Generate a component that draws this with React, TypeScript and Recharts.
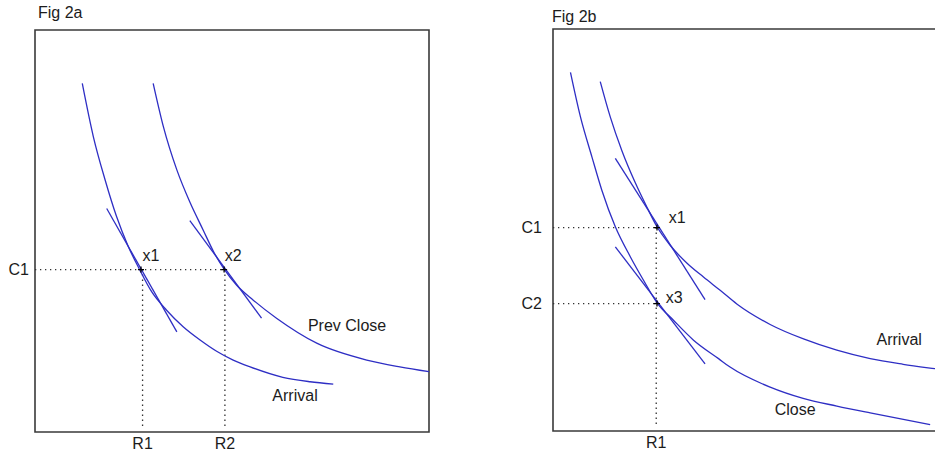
import React from 'react';
import {
  ComposedChart, Line, Scatter, XAxis, YAxis, ReferenceArea, ReferenceLine,
} from 'recharts';

const FONT = '"Liberation Sans", Arial, Helvetica, sans-serif';
const CURVE = '#2e2ec4';
const TEXT = '#1c1c1c';

// ---------- Fig 2a data (abstract units, 0..100) ----------
const arrivalA = [
  [12.0, 86.7], [14.8, 73.5], [17.8, 62.7], [20.7, 53.6], [23.7, 46.1],
  [26.6, 40.3], [29.6, 34.9], [33.4, 30.3], [37.6, 26.2], [41.9, 22.9],
  [46.1, 20.1], [50.3, 17.9], [54.6, 16.2], [62.9, 13.6], [69.8, 12.5],
  [75.7, 11.9],
];
const prevCloseA = [
  [30.0, 86.7], [32.6, 75.9], [36.0, 65.2], [39.3, 57.2], [42.7, 50.2],
  [45.3, 44.9], [48.0, 40.5], [51.2, 36.5], [55.4, 32.8], [61.3, 28.3],
  [71.5, 22.1], [84.2, 17.9], [92.6, 16.2], [100, 15.0],
];
const tangentA1 = [[18.2, 55.6], [36.0, 24.9]];
const tangentA2 = [[39.3, 52.6], [57.5, 28.3]];
const C1_A = 40.4;
const R1_A = 27.3;
const R2_A = 48.2;
const markersA = [[26.9, C1_A], [48.0, C1_A]];
const yTicksA = [C1_A];
const yTickLabelsA = ['C1'];
const xTicksA = [R1_A, R2_A];
const xTickLabelsA = ['R1', 'R2'];
const labelsA = [
  { x: 29.4, y: 44.0, text: 'x1' },
  { x: 50.3, y: 44.0, text: 'x2' },
  { x: 79.2, y: 26.6, text: 'Prev Close' },
  { x: 66.0, y: 9.2, text: 'Arrival' },
];

// ---------- Fig 2b data (abstract units, 0..100) ----------
const closeB = [
  [4.4, 89.2], [6.9, 78.2], [9.8, 68.2], [12.3, 59.9], [15.7, 50.8],
  [19.5, 43.3], [22.8, 37.5], [26.2, 31.9], [30.4, 27.5], [35.4, 22.6],
  [41.7, 18.0], [44.6, 15.9], [54.7, 10.9], [63.0, 8.1], [71.5, 6.2],
  [79.9, 4.5], [95.0, 1.6],
];
const arrivalB = [
  [11.9, 86.9], [14.4, 78.2], [17.4, 69.6], [20.7, 61.8], [23.7, 55.6],
  [26.2, 50.8], [29.5, 46.2], [33.7, 41.8], [37.9, 38.3], [42.1, 35.0],
  [46.3, 31.6], [54.7, 26.5], [63.1, 22.9], [71.5, 20.1], [79.9, 18.0],
  [88.2, 16.6], [96.2, 15.5], [100, 15.0],
];
const tangentB1 = [[15.7, 67.8], [38.3, 32.7]];
const tangentB3 = [[15.7, 45.8], [38.3, 16.7]];
const C1_B = 50.6;
const C2_B = 31.7;
const R1_B = 26.0;
const markersB = [[26.2, C1_B], [26.2, C2_B]];
const yTicksB = [C2_B, C1_B];
const yTickLabelsB = ['C2', 'C1'];
const xTicksB = [R1_B];
const xTickLabelsB = ['R1'];
const labelsB = [
  { x: 31.3, y: 53.1, text: 'x1' },
  { x: 30.5, y: 33.2, text: 'x3' },
  { x: 87.2, y: 22.7, text: 'Arrival' },
  { x: 61.0, y: 5.3, text: 'Close' },
];

const toPts = (arr: number[][]) => arr.map(([x, y]) => ({ x, y }));

const Cross = (p: any) => (
  <path
    d={`M${p.cx - 3},${p.cy}h6M${p.cx},${p.cy - 3}v6`}
    stroke="#000"
    strokeWidth={1.3}
    fill="none"
  />
);

const TextMark = (p: any) => (
  <text
    x={p.cx}
    y={p.cy}
    textAnchor="middle"
    dominantBaseline="central"
    fontSize={16}
    fontFamily={FONT}
    fill={TEXT}
  >
    {p.payload.text}
  </text>
);

const dotted = { stroke: '#333', strokeWidth: 1.3, strokeDasharray: '1.3 3.7' };

const curve = (key: string, data: number[][], type: any = 'monotone') => (
  <Line
    key={key}
    data={toPts(data)}
    dataKey="y"
    type={type}
    stroke={CURVE}
    strokeWidth={1.3}
    dot={false}
    activeDot={false}
    isAnimationActive={false}
  />
);

const tickStyle = { fill: TEXT, fontSize: 16, fontFamily: FONT };

export default function App() {
  return (
    <div
      style={{
        position: 'absolute', left: 0, top: 0, width: 935, height: 456,
        overflow: 'hidden', background: '#fff', fontFamily: FONT,
      }}
    >
      <div style={{ position: 'absolute', left: 38, top: 5, fontSize: 16, lineHeight: '16px', color: TEXT }}>
        Fig 2a
      </div>
      <div style={{ position: 'absolute', left: 552, top: 9, fontSize: 16, lineHeight: '16px', color: TEXT }}>
        Fig 2b
      </div>

      {/* Fig 2a */}
      <div style={{ position: 'absolute', left: 0, top: 0 }}>
        <ComposedChart width={470} height={456} margin={{ top: 30, right: 41, bottom: 0, left: 0 }}>
          <XAxis
            type="number" dataKey="x" domain={[0, 100]} allowDataOverflow
            ticks={xTicksA} tickFormatter={(v: number, i: number) => xTickLabelsA[i]}
            axisLine={false} tickLine={false} tickSize={6} tickMargin={0} height={24}
            tick={tickStyle} interval={0}
          />
          <YAxis
            type="number" dataKey="y" domain={[0, 100]} allowDataOverflow
            ticks={yTicksA} tickFormatter={(v: number, i: number) => yTickLabelsA[i]}
            axisLine={false} tickLine={false} tickSize={6} tickMargin={0} width={35}
            tick={tickStyle} interval={0}
          />
          <ReferenceArea x1={0} x2={100} y1={0} y2={100} fill="none" stroke="#3a3a3a" strokeWidth={1.6} />
          <ReferenceLine segment={[{ x: 0, y: C1_A }, { x: R2_A, y: C1_A }]} {...dotted} />
          <ReferenceLine segment={[{ x: R1_A, y: C1_A }, { x: R1_A, y: 1 }]} {...dotted} />
          <ReferenceLine segment={[{ x: R2_A, y: C1_A }, { x: R2_A, y: 1 }]} {...dotted} />
          {curve('arrA', arrivalA)}
          {curve('pcA', prevCloseA)}
          {curve('tA1', tangentA1, 'linear')}
          {curve('tA2', tangentA2, 'linear')}
          <Scatter data={toPts(markersA)} dataKey="y" shape={Cross} isAnimationActive={false} />
          <Scatter data={labelsA} dataKey="y" shape={TextMark} isAnimationActive={false} />
        </ComposedChart>
      </div>

      {/* Fig 2b */}
      <div style={{ position: 'absolute', left: 470, top: 0 }}>
        <ComposedChart width={480} height={456} margin={{ top: 29, right: 0, bottom: 0, left: 0 }}>
          <XAxis
            type="number" dataKey="x" domain={[0, 100]} allowDataOverflow
            ticks={xTicksB} tickFormatter={(v: number, i: number) => xTickLabelsB[i]}
            axisLine={false} tickLine={false} tickSize={6} tickMargin={0} height={25}
            tick={tickStyle} interval={0}
          />
          <YAxis
            type="number" dataKey="y" domain={[0, 100]} allowDataOverflow
            ticks={yTicksB} tickFormatter={(v: number, i: number) => yTickLabelsB[i]}
            axisLine={false} tickLine={false} tickSize={6} tickMargin={5} width={83}
            tick={tickStyle} interval={0}
          />
          <ReferenceArea x1={0} x2={100} y1={0} y2={100} fill="none" stroke="#3a3a3a" strokeWidth={1.6} />
          <ReferenceLine segment={[{ x: 0, y: C1_B }, { x: R1_B, y: C1_B }]} {...dotted} />
          <ReferenceLine segment={[{ x: 0, y: C2_B }, { x: R1_B, y: C2_B }]} {...dotted} />
          <ReferenceLine segment={[{ x: R1_B, y: C1_B }, { x: R1_B, y: 1 }]} {...dotted} />
          {curve('closeB', closeB)}
          {curve('arrB', arrivalB)}
          {curve('tB1', tangentB1, 'linear')}
          {curve('tB3', tangentB3, 'linear')}
          <Scatter data={toPts(markersB)} dataKey="y" shape={Cross} isAnimationActive={false} />
          <Scatter data={labelsB} dataKey="y" shape={TextMark} isAnimationActive={false} />
        </ComposedChart>
      </div>
    </div>
  );
}
